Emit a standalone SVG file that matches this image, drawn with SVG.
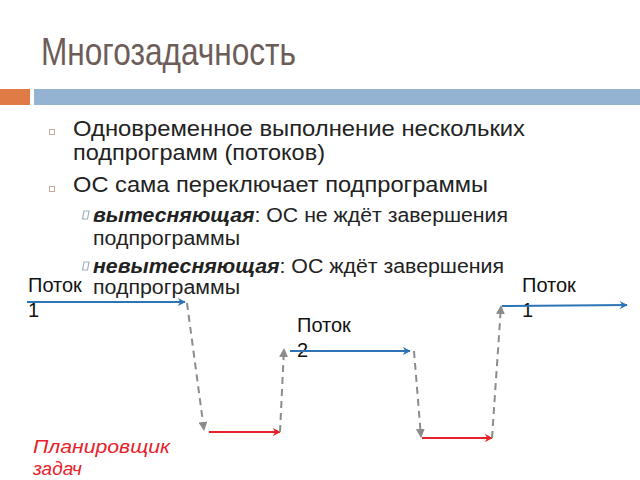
<svg xmlns="http://www.w3.org/2000/svg" width="640" height="480" viewBox="0 0 640 480">
<defs>
<style>
.t{font-family:"Liberation Sans",Arial,sans-serif;fill:#222}
.title{font-family:"Liberation Sans",Arial,sans-serif;fill:#6d5d58;font-size:39px}
.main{font-size:22.5px}
.sub{font-size:19.5px}
.lbl{font-family:"Liberation Sans",Arial,sans-serif;font-size:20px;fill:#111}
.red{font-family:"Liberation Sans",Arial,sans-serif;font-size:19px;fill:#e8212a;font-style:italic}
.blue{stroke:#2e74b5;stroke-width:2;fill:none}
.redl{stroke:#e8212a;stroke-width:2;fill:none}
.gray{stroke:#8c8c8c;stroke-width:2;fill:none;stroke-dasharray:7 5}
.b1{fill:none;stroke:#c9a99b;stroke-width:1}
.b2{fill:none;stroke:#9fb0c0;stroke-width:1.2}
</style>
<marker id="ab" viewBox="0 0 10 10" refX="9" refY="5" markerWidth="8" markerHeight="8" markerUnits="userSpaceOnUse" orient="auto"><path d="M0,0 L10,5 L0,10 L3,5 z" fill="#2e74b5"/></marker>
<marker id="ar" viewBox="0 0 10 10" refX="9" refY="5" markerWidth="8" markerHeight="8" markerUnits="userSpaceOnUse" orient="auto"><path d="M0,0 L10,5 L0,10 L3,5 z" fill="#e8212a"/></marker>
<marker id="ag" viewBox="0 0 10 10" refX="9" refY="5" markerWidth="9" markerHeight="9" markerUnits="userSpaceOnUse" orient="auto"><path d="M0,0 L10,5 L0,10 z" fill="#8c8c8c"/></marker>
</defs>
<rect width="640" height="480" fill="#fff"/>
<g id="title">
<text class="title" x="41" y="65" textLength="255" lengthAdjust="spacingAndGlyphs">Многозадачность</text>
<rect x="0" y="89" width="30" height="16" fill="#e07b45"/>
<rect x="34" y="89" width="606" height="16" fill="#94b3d2"/>
</g>
<g id="bullets">
<rect class="b1" x="49.5" y="129.5" width="5" height="5"/>
<rect class="b1" x="49.5" y="186.5" width="5" height="5"/>
<path class="b2" d="M84,211 L89,211 L87.5,219 L82.5,219 Z"/>
<path class="b2" d="M84,262 L89,262 L87.5,270 L82.5,270 Z"/>
<text class="t main" x="73" y="136" textLength="452" lengthAdjust="spacingAndGlyphs">Одновременное выполнение нескольких</text>
<text class="t main" x="73" y="160" textLength="252" lengthAdjust="spacingAndGlyphs">подпрограмм (потоков)</text>
<text class="t main" x="73" y="192" textLength="415" lengthAdjust="spacingAndGlyphs">ОС сама переключает подпрограммы</text>
<text class="t sub" x="93" y="222" textLength="415" lengthAdjust="spacingAndGlyphs"><tspan font-weight="bold" font-style="italic">вытесняющая</tspan>: ОС не ждёт завершения</text>
<text class="t sub" x="93" y="245" textLength="147" lengthAdjust="spacingAndGlyphs">подпрограммы</text>
<text class="t sub" x="93" y="273" textLength="411" lengthAdjust="spacingAndGlyphs"><tspan font-weight="bold" font-style="italic">невытесняющая</tspan>: ОС ждёт завершения</text>
<text class="t sub" x="93" y="294" textLength="147" lengthAdjust="spacingAndGlyphs">подпрограммы</text>
</g>
<g id="label-p1a"><text class="lbl" x="28" y="292">Поток</text><text class="lbl" x="28" y="317">1</text></g>
<g id="label-p2"><text class="lbl" x="297" y="332">Поток</text><text class="lbl" x="297" y="357">2</text></g>
<g id="label-p1b"><text class="lbl" x="522" y="292">Поток</text><text class="lbl" x="522" y="317">1</text></g>
<g id="label-sched"><text class="red" x="33" y="453" textLength="137" lengthAdjust="spacingAndGlyphs">Планировщик</text><text class="red" x="33" y="475">задач</text></g>
<g id="connectors">
<line class="blue" x1="27" y1="302" x2="185" y2="302" marker-end="url(#ab)"/>
<line class="gray" x1="187" y1="303" x2="204" y2="430" marker-end="url(#ag)"/>
<line class="redl" x1="209" y1="432" x2="280" y2="432" marker-end="url(#ar)"/>
<line class="gray" x1="280" y1="432" x2="284" y2="349" marker-end="url(#ag)"/>
<line class="blue" x1="290" y1="351" x2="410" y2="351" marker-end="url(#ab)"/>
<line class="gray" x1="414" y1="351" x2="421" y2="437" marker-end="url(#ag)"/>
<line class="redl" x1="422" y1="438" x2="492" y2="438" marker-end="url(#ar)"/>
<line class="gray" x1="492" y1="438" x2="501" y2="306" marker-end="url(#ag)"/>
<line class="blue" x1="502" y1="306" x2="627" y2="305" marker-end="url(#ab)"/>
</g>
</svg>
